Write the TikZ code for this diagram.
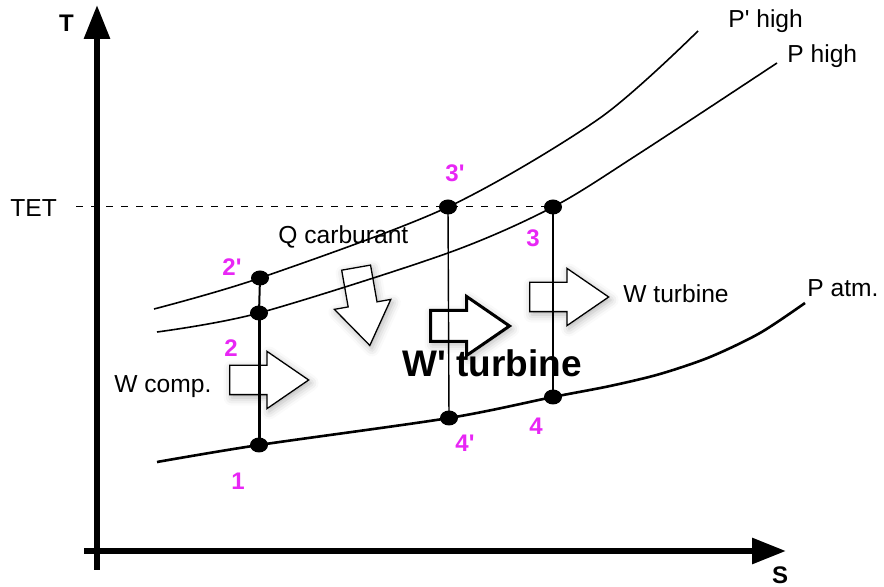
\documentclass[tikz,border=0pt]{standalone}
\usepackage{fontspec}
\setmainfont{Liberation Sans}[Ligatures=TeXOff]
\usetikzlibrary{arrows.meta,shapes.geometric,shapes.arrows,shadows.blur}
\definecolor{fuchsia}{RGB}{232,38,245}
\tikzset{
  pt/.style={ellipse,fill,inner sep=0pt,minimum width=9pt,minimum height=7.5pt},
  num/.style={text=fuchsia,font=\fontsize{12}{14}\selectfont\bfseries,anchor=base,inner sep=0pt},
  lbl/.style={font=\fontsize{12.3}{14}\selectfont,anchor=base west,inner sep=0pt},
  fat/.style={single arrow,draw,fill=white,anchor=tail,inner xsep=0pt,inner ysep=7pt,minimum width=1pt,minimum height=39.5pt,
    single arrow head extend=7pt,single arrow tip angle=69,line width=.65pt,
    blur shadow={shadow xshift=1pt,shadow yshift=-1.5pt,shadow blur radius=4pt,shadow opacity=30}}
}
\begin{document}
\begin{tikzpicture}[x=.5pt,y=-.5pt]
\useasboundingbox (0,0) rectangle (884,587);
\node[fat] (wcomp) at (229,380) {};
\node[fat] (wturb) at (529,297) {};
\node[fat,rotate=-80] (qcarb) at (356,267) {};
\node[fat,line width=1.5pt] (wturb2) at (429,326) {};
% isobars
\draw[line width=.8pt] plot[smooth] coordinates {(154,309) (260,278) (448,207) (600,118) (698,31)};
\draw[line width=.8pt] plot[smooth] coordinates {(157,332) (259,313) (448,253) (553,207) (640,153) (777,63)};
\draw[line width=1.3pt] plot[smooth] coordinates {(157,462) (259,445) (449,418) (553,397) (610,386) (660,374) (710,357) (760,333) (805,303)};
\foreach \n/\x/\y in {p1/259/445,p2/259/313,p2b/260/278,p3b/448/207,p3/553/207,p4b/449/418,p4/553/397}{\node[pt] (\n) at (\x,\y) {};}
\coordinate (tetl) at (76,207);
\draw[line width=.5pt,dash pattern=on 3.5pt off 4pt] (tetl)--(p3.center);
\draw[line width=1pt] (p2b.center)--(p2.center);
\draw[line width=1.5pt] (p2.center)--(p1.center);
\draw[line width=.7pt] (p3b.center)--(p4b.center);
\draw[line width=.7pt] (p3.center)--(p4.center);
% axes
\coordinate (tbot) at (97,570); \coordinate (ttop) at (97,5);
\coordinate (sleft) at (84,551); \coordinate (sright) at (786,551);
\draw[line width=3pt,-{Triangle[length=17pt,width=12.5pt]}] (tbot)--(ttop);
\draw[line width=3pt,-{Triangle[length=17pt,width=12.5pt]}] (sleft)--(sright);
\node[font=\fontsize{12}{14}\selectfont\bfseries,anchor=base,inner sep=0pt] (tlab) at (66.5,32) {T};
\node[font=\fontsize{12}{14}\selectfont\bfseries,anchor=base,inner sep=0pt] (slab) at (780,583) {S};
\foreach \n/\t/\x/\y in {n1/1/238/490,n2/2/231/357,n2b/2'/232/276,n3/3/533/247,n3b/3'/455/182,n4/4/536/435,n4b/4'/465/452}{\node[num] (\n) at (\x,\y) {\t};}
\node[lbl] (tet) at (10,217) {TET};
\node[lbl] (qlab) at (278,244) {Q carburant};
\node[lbl] (wclab) at (114,393) {W comp.};
\node[lbl] (wtlab) at (623,303) {W turbine};
\node[lbl,font=\fontsize{18.5}{22}\selectfont\bfseries] (wt2lab) at (402,377) {W' turbine};
\node[lbl] (ph2) at (728,28) {P' high};
\node[lbl] (ph) at (787,63) {P high};
\node[lbl] (patm) at (807,297) {P atm.};
\end{tikzpicture}
\end{document}
